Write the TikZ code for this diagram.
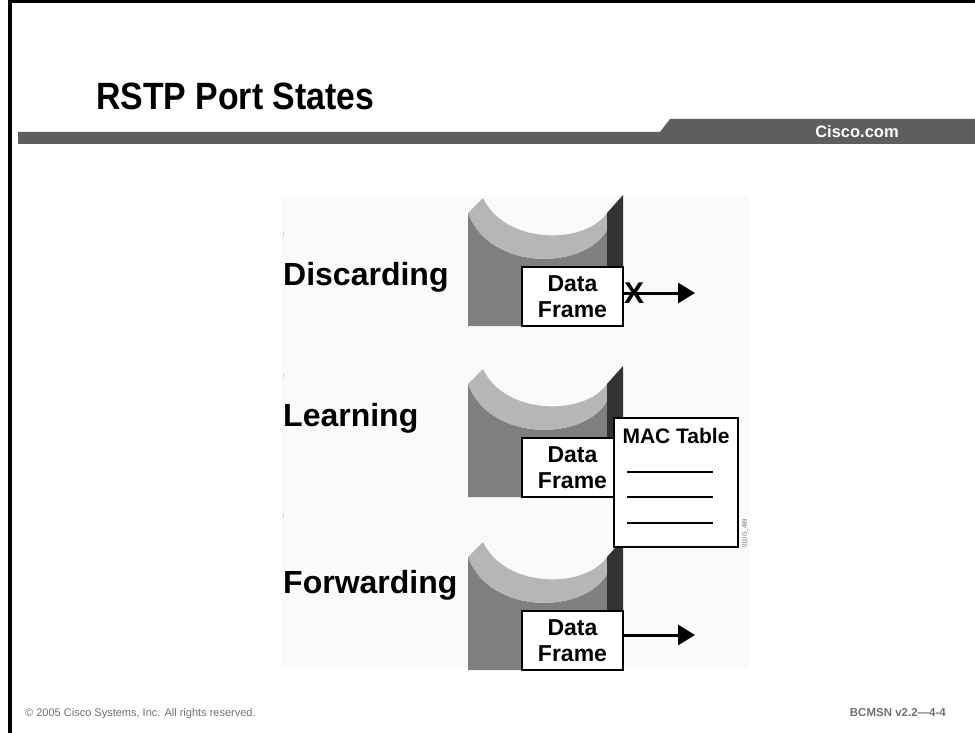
\documentclass[tikz,border=0pt]{standalone}
\usepackage{fontspec}
\setmainfont{Liberation Sans}
\usetikzlibrary{arrows.meta}
\definecolor{barGray}{HTML}{5E5E5E}
\definecolor{faceGray}{HTML}{7F7F7F}
\definecolor{rimGray}{HTML}{B6B6B6}
\definecolor{sideGray}{HTML}{333333}
\definecolor{panelGray}{HTML}{FAFAFA}
\definecolor{footGray}{HTML}{707070}
\begin{document}
\begin{tikzpicture}[x=1pt,y=-1pt,
  statelabel/.style={anchor=base west, inner sep=0pt, font=\fontsize{32}{38}\selectfont\bfseries},
  framebox/.style={draw=black, line width=2pt, fill=white, minimum width=101pt, minimum height=59pt,
    inner sep=0pt, align=center, font=\fontsize{23}{26}\selectfont\bfseries},
  flow/.style={line width=3pt, -{Triangle[length=17pt,width=20pt]}},
  tablerule/.style={line width=2pt},
  tick/.style={gray!45, line width=0.6pt},
]
\useasboundingbox (0,0) rectangle (975,733);
\fill[white] (0,0) rectangle (975,733);

% slide border
\draw[line width=3.5pt] (10,733) -- (10,1.5) -- (975,1.5);

% heading and rule
\node[anchor=base west, inner sep=0pt, font=\fontsize{38}{46}\selectfont\bfseries] (title) at (96,110)
  {\scalebox{0.89}[1]{RSTP Port States}};
\fill[barGray] (18,132) -- (660,132) -- (670,119) -- (975,119) -- (975,144) -- (18,144) -- cycle;
\node[anchor=base, inner sep=0pt, text=white, font=\fontsize{16.5}{20}\selectfont\bfseries] (site) at (857,138) {Cisco.com};

% figure panel
\fill[panelGray] (282,196) rectangle (749,668);
\draw[tick] (283,237) -- (284,232);
\draw[tick] (283,378) -- (284,373);
\draw[tick] (283,518) -- (284,513);

% the three port cylinders
\foreach \dy in {0,171,344} {
  \begin{scope}[shift={(0,\dy)}]
    \fill[faceGray] (468,213) .. controls (490,272) and (585,270) .. (607,230) -- (607,326) -- (468,326) -- cycle;
    \fill[rimGray] (483,198) .. controls (505,245) and (585,245) .. (607,213) -- (607,230)
      .. controls (585,270) and (490,272) .. (468,213) -- cycle;
    \fill[sideGray] (607,213) -- (623,195) -- (623,326) -- (607,326) -- cycle;
  \end{scope}
}

% state names
\node[statelabel] (discarding) at (283,285) {Discarding};
\node[statelabel] (learning) at (283,426) {Learning};
\node[statelabel] (forwarding) at (283,593) {Forwarding};

% data frames
\node[framebox] (df1) at (572.5,296.5) {Data\\Frame};
\node[framebox] (df2) at (572.5,467.5) {Data\\Frame};
\node[framebox] (df3) at (572.5,640.5) {Data\\Frame};

% discarding: frame blocked
\coordinate (d1end) at (695,293);
\draw[flow] (d1end -| df1.east) -- (d1end);
\node[inner sep=0pt, font=\fontsize{30}{31}\selectfont\bfseries] (block) at (634,293) {X};

% learning: MAC table
\node[draw=black, line width=2.5pt, fill=white, minimum width=124pt, minimum height=129pt, inner sep=0pt] (mac) at (676,482.5) {};
\node[anchor=base, inner sep=0pt, font=\fontsize{21}{26}\selectfont\bfseries] (mactitle) at (676,443) {MAC Table};
\draw[tablerule] (627,472) -- (713,472);
\draw[tablerule] (627,497) -- (713,497);
\draw[tablerule] (627,523) -- (713,523);
\node[rotate=90, anchor=west, inner sep=0pt, text=footGray, font=\fontsize{6}{7}\selectfont] (figid) at (745,548) {01DG\_489};

% forwarding: frame passes
\coordinate (f3end) at (695,635);
\draw[flow] (f3end -| df3.east) -- (f3end);

% footer
\node[anchor=base west, inner sep=0pt, text=footGray, font=\fontsize{11}{13}\selectfont] (copy) at (25,716) {© 2005 Cisco Systems, Inc. All rights reserved.};
\node[anchor=base east, inner sep=0pt, text=footGray, font=\fontsize{11.5}{13}\selectfont\bfseries] (code) at (946,716) {BCMSN v2.2—4-4};
\end{tikzpicture}
\end{document}
